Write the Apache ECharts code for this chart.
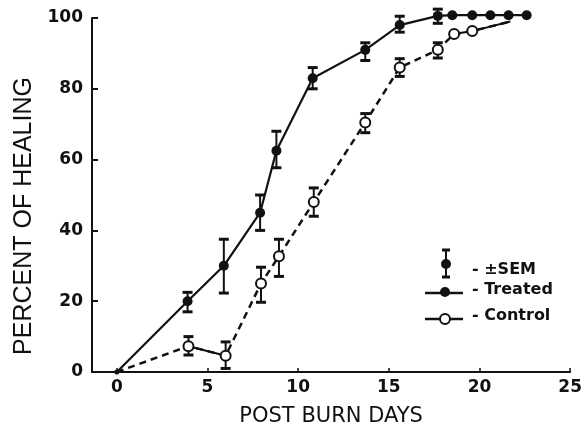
<!DOCTYPE html>
<html>
<head>
<meta charset="utf-8">
<script src="https://cdn.jsdelivr.net/npm/echarts@6/dist/echarts.min.js"></script>
<style>
    html, body { margin: 0; background: #fff; }
    #grafico { width: 585px; height: 432px; }
</style>
</head>
<body>
<div id="grafico"></div>
<script>
// dados
const treatedDays = [0, 3.9, 5.9, 7.9, 8.8, 10.8, 13.7, 15.6, 17.7, 18.5, 19.6, 20.6, 21.6, 22.6];
const treatedPct  = [0, 20, 30, 45, 62.5, 83, 91, 98, 100.6, 100.8, 100.8, 100.8, 100.8, 100.8];
const treatedLow  = [null, 17, 22.3, 40, 57.7, 80, 88, 96, 98.5, null, null, null, null, null];
const treatedHigh = [null, 22.5, 37.5, 50, 68, 86, 93, 100.5, 102.5, null, null, null, null, null];

const controlDays = [0, 3.95, 6, 7.95, 8.94, 10.86, 13.7, 15.6, 17.7, 18.6, 19.6, 21.7];
const controlPct  = [0, 7.3, 4.6, 25, 32.7, 48, 70.5, 86, 91, 95.5, 96.3, 99];
const controlLow  = [null, 4.8, 1, 19.7, 27, 44, 67.6, 83.5, 88.7, null, null, null];
const controlHigh = [null, 10, 8.5, 29.6, 37.5, 52, 73, 88.5, 93, null, null, null];

const xTicks = [0, 5, 10, 15, 20, 25];
const yTicks = [0, 20, 40, 60, 80, 100];

const tinta = "#111";

function pares(xs, ys) {
    return xs.map((x, i) => [x, ys[i]]);
}

function barras(xs, lows, highs) {
    let out = [];
    xs.forEach((x, i) => {
        if (lows[i] !== null) out.push([x, lows[i], highs[i]]);
    });
    return out;
}

// barra de erro com tampas
function desenharBarra(params, api) {
    const x = api.value(0);
    const baixo = api.coord([x, api.value(1)]);
    const alto = api.coord([x, api.value(2)]);
    const w = 5;
    const estilo = { stroke: tinta, lineWidth: 2 };
    return {
        type: "group",
        children: [
            { type: "line", shape: { x1: alto[0], y1: alto[1], x2: baixo[0], y2: baixo[1] }, style: estilo },
            { type: "line", shape: { x1: alto[0] - w, y1: alto[1], x2: alto[0] + w, y2: alto[1] }, style: { stroke: tinta, lineWidth: 3 } },
            { type: "line", shape: { x1: baixo[0] - w, y1: baixo[1], x2: baixo[0] + w, y2: baixo[1] }, style: { stroke: tinta, lineWidth: 3 } }
        ]
    };
}

let grafico = document.getElementById("grafico");
let myChart = echarts.init(grafico);

const fonteNum = { fontFamily: "DejaVu Sans", fontWeight: "bold", fontSize: 17, color: tinta };

let option = {
    animation: false,
    grid: { left: 92, right: 12, top: 18, bottom: 59 },
    xAxis: {
        type: "value",
        min: -1.37,
        max: 25,
        name: "POST BURN DAYS",
        nameLocation: "middle",
        nameGap: 34,
        nameTextStyle: { fontFamily: "DejaVu Sans", fontSize: 21, color: tinta },
        axisLine: { onZero: false, lineStyle: { color: tinta, width: 2 } },
        axisTick: { show: true, inside: true, length: 4, customValues: xTicks, lineStyle: { color: tinta, width: 1.5 } },
        axisLabel: Object.assign({ margin: 7, customValues: xTicks }, fonteNum),
        splitLine: { show: false }
    },
    yAxis: {
        type: "value",
        min: 0,
        max: 100,
        name: "PERCENT OF HEALING",
        nameLocation: "middle",
        nameRotate: 90,
        nameGap: 52,
        nameTextStyle: { fontFamily: "Liberation Sans", fontSize: 25, color: tinta, padding: [0, 42, 0, 0] },
        axisLine: { onZero: false, lineStyle: { color: tinta, width: 2 } },
        axisTick: { show: true, inside: true, length: 6, customValues: yTicks, lineStyle: { color: tinta, width: 2 } },
        axisLabel: Object.assign({ margin: 9, customValues: yTicks }, fonteNum),
        splitLine: { show: false }
    },
    series: [
        {
            name: "treatedSem",
            type: "custom",
            renderItem: desenharBarra,
            encode: { x: 0, y: [1, 2] },
            data: barras(treatedDays, treatedLow, treatedHigh),
            clip: false,
            z: 1
        },
        {
            name: "controlSem",
            type: "custom",
            renderItem: desenharBarra,
            encode: { x: 0, y: [1, 2] },
            data: barras(controlDays, controlLow, controlHigh),
            clip: false,
            z: 1
        },
        {
            name: "Control",
            type: "line",
            data: pares(controlDays, controlPct),
            clip: false,
            symbol: "circle",
            symbolSize: (v, p) => (p.dataIndex === 0 || p.dataIndex === controlDays.length - 1) ? 0 : 10,
            itemStyle: { color: "#fff", borderColor: tinta, borderWidth: 2 },
            lineStyle: { color: tinta, width: 2.5, type: [7, 5] },
            z: 3
        },
        {
            // trechos da curva controle que aparecem continuos
            name: "controlSolid1",
            type: "line",
            data: pares(controlDays, controlPct).slice(1, 3),
            symbol: "none",
            lineStyle: { color: tinta, width: 2 },
            z: 2
        },
        {
            name: "controlSolid2",
            type: "line",
            data: pares(controlDays, controlPct).slice(9),
            clip: false,
            symbol: "none",
            lineStyle: { color: tinta, width: 2 },
            z: 2
        },
        {
            name: "Treated",
            type: "line",
            data: pares(treatedDays, treatedPct),
            clip: false,
            symbol: "circle",
            symbolSize: (v, p) => p.dataIndex === 0 ? 5 : 10,
            itemStyle: { color: tinta },
            lineStyle: { color: tinta, width: 2.2 },
            z: 4
        }
    ],
    // legenda desenhada a mao
    graphic: [
        { type: "line", shape: { x1: 446, y1: 250, x2: 446, y2: 277 }, style: { stroke: tinta, lineWidth: 2 } },
        { type: "line", shape: { x1: 442, y1: 250, x2: 450, y2: 250 }, style: { stroke: tinta, lineWidth: 3 } },
        { type: "line", shape: { x1: 442, y1: 277, x2: 450, y2: 277 }, style: { stroke: tinta, lineWidth: 3 } },
        { type: "circle", shape: { cx: 446, cy: 264, r: 5 }, style: { fill: tinta } },
        { type: "text", left: 472, top: 262, style: { text: "- ±SEM", font: "bold 16px 'DejaVu Sans'", fill: tinta } },

        { type: "line", shape: { x1: 425, y1: 293, x2: 463, y2: 293 }, style: { stroke: tinta, lineWidth: 2.5 } },
        { type: "circle", shape: { cx: 445, cy: 292, r: 5 }, style: { fill: tinta } },
        { type: "text", left: 472, top: 282, style: { text: "- Treated", font: "bold 16px 'DejaVu Sans'", fill: tinta } },

        { type: "line", shape: { x1: 425, y1: 319, x2: 463, y2: 319 }, style: { stroke: tinta, lineWidth: 2.5 } },
        { type: "circle", shape: { cx: 445, cy: 319, r: 5 }, style: { fill: "#fff", stroke: tinta, lineWidth: 2 } },
        { type: "text", left: 472, top: 308, style: { text: "- Control", font: "bold 16px 'DejaVu Sans'", fill: tinta } }
    ]
};

myChart.setOption(option);
</script>
</body>
</html>
